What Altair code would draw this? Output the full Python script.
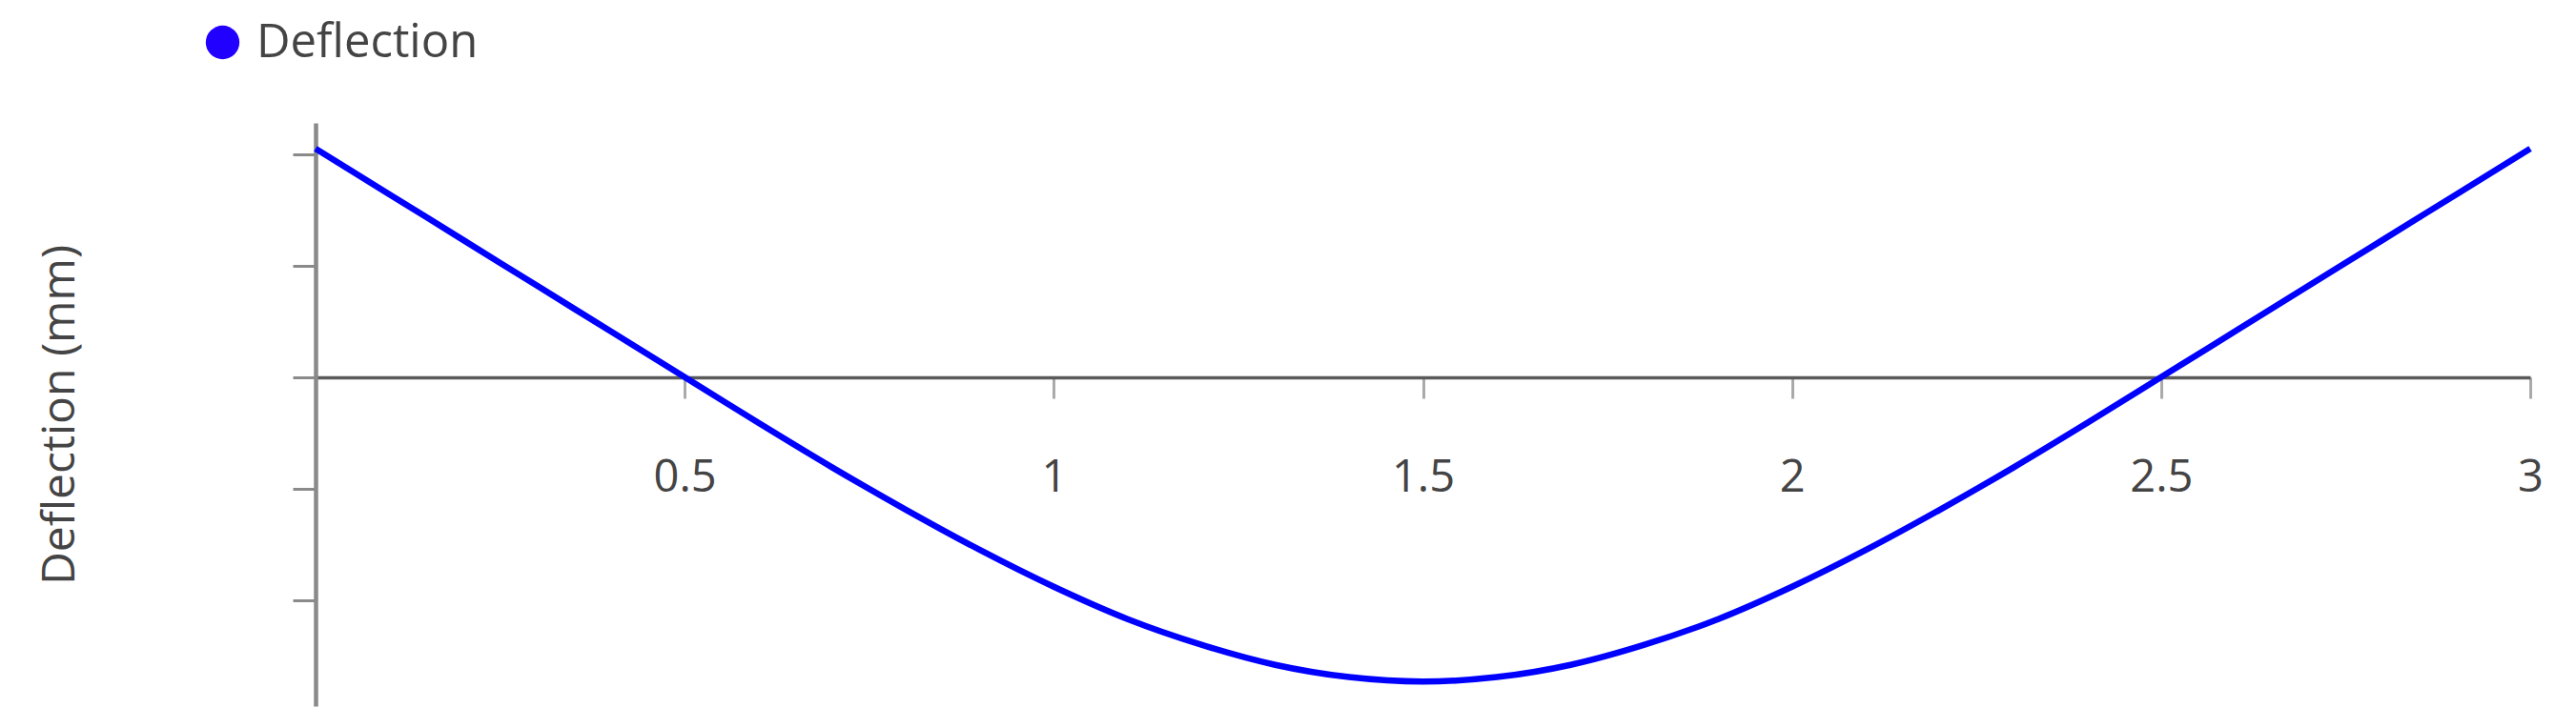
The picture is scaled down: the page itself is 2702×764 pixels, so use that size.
import altair as alt
import pandas as pd

# position along beam (m)
x_vals = [0.0, 0.1, 0.2, 0.3, 0.4, 0.5, 0.6, 0.7, 0.8, 0.9, 1.0, 1.1, 1.2, 1.3, 1.4, 1.5,
          1.6, 1.7, 1.8, 1.9, 2.0, 2.1, 2.2, 2.3, 2.4, 2.5, 2.6, 2.7, 2.8, 2.9, 3.0]
# deflection (arbitrary tick units)
defl = [2.05, 1.64, 1.23, 0.82, 0.41, 0.0, -0.41, -0.81, -1.19, -1.55, -1.88, -2.17, -2.40,
        -2.58, -2.69, -2.73, -2.69, -2.58, -2.40, -2.17, -1.88, -1.55, -1.19, -0.81, -0.41,
        0.0, 0.41, 0.82, 1.23, 1.64, 2.05]
series = ["Deflection"] * len(x_vals)
x_ticks = [0.5, 1, 1.5, 2, 2.5, 3]
y_ticks = [-2, -1, 0, 1, 2]

df = pd.DataFrame({"x": x_vals, "y": defl, "series": series})

FONT = "Open Sans"

chart = alt.Chart(df).mark_line(strokeWidth=6.5, interpolate="monotone").encode(
    x=alt.X("x:Q", scale=alt.Scale(domain=[0, 3], nice=False, zero=False),
            axis=alt.Axis(values=x_ticks, title=None, offset=-345, grid=False,
                          domainColor="#5a5a5a", domainWidth=3.5,
                          tickColor="#aaaaaa", tickWidth=3, tickSize=22,
                          labelFont=FONT, labelFontSize=47, labelColor="#444444",
                          labelPadding=60, labelFlush=False,
                          labelExpr="datum.value")),
    y=alt.Y("y:Q", scale=alt.Scale(domain=[-2.95, 2.28], nice=False, zero=False),
            axis=alt.Axis(values=y_ticks, labels=False, grid=False,
                          title="Deflection (mm)", titleFont=FONT, titleFontSize=48,
                          titleFontWeight="normal", titleColor="#444444",
                          titlePadding=218,
                          domainColor="#8a8a8a", domainWidth=4.5,
                          tickColor="#8a8a8a", tickWidth=3, tickSize=24)),
    color=alt.Color("series:N", scale=alt.Scale(range=["#0000ff"]),
                    legend=alt.Legend(title=None, orient="none", legendX=-122, legendY=-109,
                                      symbolType="circle", symbolSize=1250,
                                      symbolFillColor="#2200ff", symbolStrokeWidth=0,
                                      labelFont=FONT, labelFontSize=49, labelColor="#444444",
                                      labelLimit=1000,
                                      labelOffset=11, symbolOffset=0, padding=0)),
).properties(
    width=2323, height=612,
    autosize=alt.AutoSizeParams(type="none"),
    padding={"left": 323, "top": 121, "right": 40, "bottom": 15},
).configure(background="white").configure_view(stroke=None)

chart.save("out.html", embed_options={"renderer": "svg", "actions": False})
